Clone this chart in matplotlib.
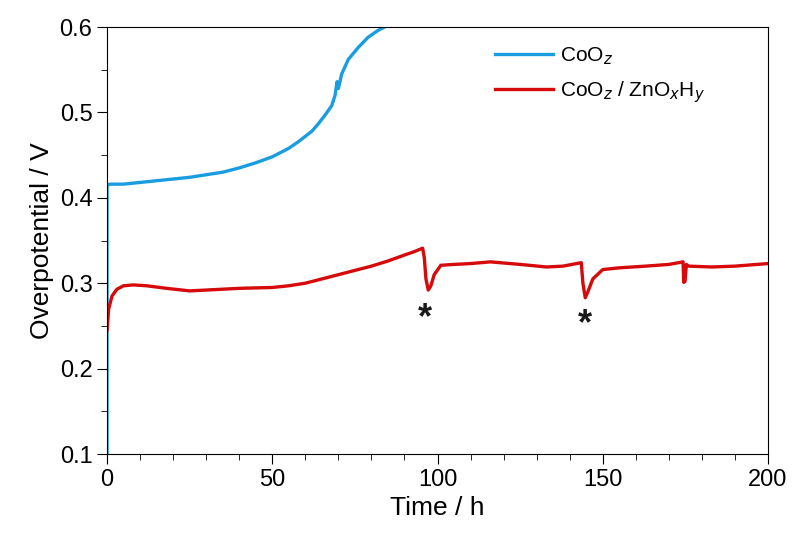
import matplotlib.pyplot as plt
from matplotlib.ticker import MultipleLocator

plt.rcParams['font.family'] = ['Liberation Sans', 'DejaVu Sans']

# CoOz (bare)
t_coo = [0, 0, 1, 5, 10, 15, 20, 25, 30, 35, 40, 45, 50, 55, 58, 62, 64, 66, 68,
         69, 69.6, 70, 71, 73, 76, 79, 82, 85, 88]
v_coo = [0.10, 0.415, 0.416, 0.416, 0.418, 0.420, 0.422, 0.424, 0.427, 0.430, 0.435,
         0.441, 0.448, 0.458, 0.466, 0.478, 0.487, 0.497, 0.508, 0.520, 0.536, 0.528,
         0.545, 0.562, 0.576, 0.588, 0.596, 0.602, 0.61]

# CoOz / ZnOxHy
t_zn = [0, 0.5, 1.5, 3, 5, 8, 12, 18, 25, 30, 40, 50, 55, 60, 65, 70, 75, 80, 85,
        90, 93, 95.5, 96, 96.5, 97.2, 98, 99, 101, 105, 110, 116, 125, 133, 138,
        142, 143.5, 144, 144.7, 145.5, 147, 150, 155, 163, 170, 174.3, 174.5,
        174.9, 175.3, 176, 183, 190, 200]
v_zn = [0.245, 0.270, 0.285, 0.293, 0.297, 0.298, 0.297, 0.294, 0.291, 0.292, 0.294,
        0.295, 0.297, 0.300, 0.305, 0.310, 0.315, 0.320, 0.326, 0.333, 0.337, 0.341,
        0.330, 0.305, 0.292, 0.297, 0.310, 0.321, 0.322, 0.323, 0.325, 0.322, 0.319,
        0.320, 0.323, 0.324, 0.300, 0.283, 0.290, 0.305, 0.316, 0.318, 0.320, 0.322,
        0.325, 0.301, 0.302, 0.322, 0.320, 0.319, 0.320, 0.323]

# asterisk marks under the dips
star_t = [96.2, 144.6]
star_v = [0.259, 0.252]

fig = plt.figure(figsize=(7.97, 5.38), dpi=100)
ax = fig.add_axes([0.1343, 0.1561, 0.8293, 0.7937])

ax.plot(t_coo, v_coo, color='#1a9de0', lw=2.4, label='CoO$_z$')
ax.plot(t_zn, v_zn, color='#d60a0a', lw=2.4, label='CoO$_z$ / ZnO$_x$H$_y$')

for t, v in zip(star_t, star_v):
    ax.text(t, v, '*', fontsize=26, fontweight='bold', ha='center', va='center',
            color='#1a1a1a')

ax.set_xlim(0, 200)
ax.set_ylim(0.1, 0.6)
ax.xaxis.set_major_locator(MultipleLocator(50))
ax.xaxis.set_minor_locator(MultipleLocator(10))
ax.yaxis.set_major_locator(MultipleLocator(0.1))
ax.yaxis.set_minor_locator(MultipleLocator(0.05))
ax.tick_params(which='both', direction='out', top=False, right=False, labelsize=17)
ax.tick_params(which='major', length=7)
ax.tick_params(which='minor', length=4)

ax.set_xlabel('Time / h', fontsize=19)
ax.set_ylabel('Overpotential / V', fontsize=19)

ax.legend(loc='upper left', bbox_to_anchor=(0.587, 0.958), frameon=False, fontsize=15,
          borderpad=0, borderaxespad=0, handlelength=2.8, handletextpad=0.3,
          labelspacing=0.6)

fig.savefig('out.png', dpi=100)
